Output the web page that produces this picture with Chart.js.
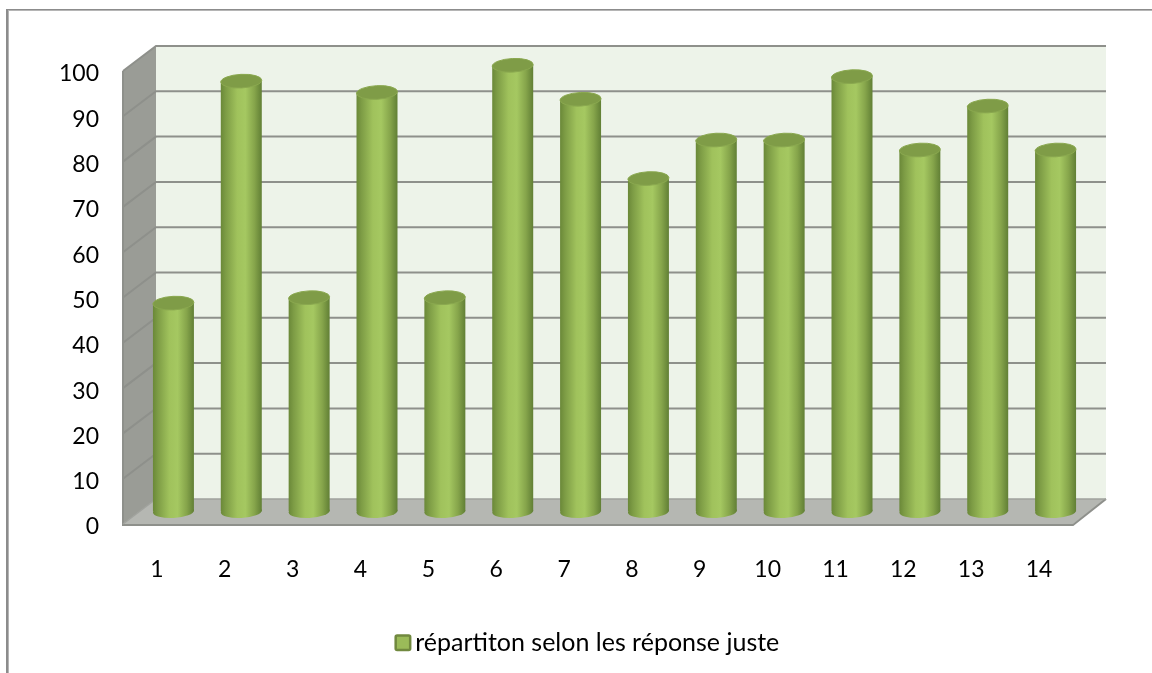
<!DOCTYPE html>
<html><head><meta charset="utf-8">
<script src="https://cdn.jsdelivr.net/npm/chart.js@4"></script>
<style>html,body{margin:0;padding:0;background:#fff}#w{position:relative;width:1152px;height:673px}canvas{display:block}</style>
</head><body><div id="w"><canvas id="c" width="1152" height="673"></canvas></div>
<script>
const categories = ['1','2','3','4','5','6','7','8','9','10','11','12','13','14'];
const seriesName = 'répartiton selon les réponse juste';
const seriesValues = [46,95,47.2,92.5,47.2,98.5,91,73.5,82,82,96,79.8,89.5,79.8];
const yMax = 100, yStep = 10;
const DEPTH_X = 33, DEPTH_Y = 25;
const TILT = -0.05;
const fontFam = 'Lato, Carlito, "Open Sans", sans-serif';

const wallPlugin = {
  id:'wall',
  afterLayout(chart){
    const lg = chart.legend;
    lg.left = 9; lg.right = 1165;
  },
  beforeDraw(chart){
    const c = chart.ctx;
    c.save();
    c.fillStyle='#fff'; c.fillRect(0,0,chart.width,chart.height);
    c.fillStyle='#8c8c8c';
    c.fillRect(6,9,1146,1); c.fillRect(6,9,2,664);
    c.fillStyle='#b5b5b5';
    c.fillRect(8,10,1144,1); c.fillRect(8,10,1,663);
    c.restore();
  },
  beforeDatasetsDraw(chart){
    const c = chart.ctx, a = chart.chartArea, y = chart.scales.y;
    const L=a.left,R=a.right,T=a.top,B=a.bottom,dx=DEPTH_X,dy=DEPTH_Y;
    c.save();
    c.fillStyle='#edf3e9';
    c.fillRect(L+dx,T-dy,R-L,B-T);
    c.fillStyle='#9a9c96';
    c.beginPath();c.moveTo(L,T);c.lineTo(L+dx,T-dy);c.lineTo(L+dx,B-dy);c.lineTo(L,B);c.closePath();c.fill();
    c.fillStyle='#b5b7b2';
    c.beginPath();c.moveTo(L,B);c.lineTo(L+dx,B-dy);c.lineTo(R+dx,B-dy);c.lineTo(R,B);c.closePath();c.fill();
    c.strokeStyle='#8e908b';c.lineWidth=2;
    y.ticks.forEach(t=>{
      const p=y.getPixelForValue(t.value);
      if(t.value>0){
        c.beginPath();c.moveTo(L,p);c.lineTo(L+dx,p-dy);c.lineTo(R+dx,p-dy);c.stroke();
      }
    });
    c.beginPath();c.moveTo(L,T);c.lineTo(L,B+1);c.lineTo(R,B+1);c.lineTo(R+dx,B-dy);c.stroke();
    c.beginPath();c.moveTo(L,B);c.lineTo(L+dx,B-dy);c.lineTo(R+dx,B-dy);
    c.strokeStyle='#a0a29d';c.lineWidth=1.5;c.stroke();
    c.restore();
  },
  beforeDatasetDraw(chart){
    const c=chart.ctx;
    c.save();
    c.translate(DEPTH_X/2,-DEPTH_Y/2);
    chart.getDatasetMeta(0).data.forEach(b=>{
      c.fillStyle=grad(c,b.x,b.width);
      c.beginPath();c.ellipse(b.x,b.base,b.width/2,6.5,TILT,0,Math.PI*2);c.fill();
    });
  },
  afterDatasetDraw(chart){
    const c=chart.ctx;
    chart.getDatasetMeta(0).data.forEach(b=>{
      c.fillStyle='#7f9c47';
      c.beginPath();c.ellipse(b.x,b.y,b.width/2,6.8,TILT,0,Math.PI*2);c.fill();
      c.strokeStyle='#8aa84f';c.lineWidth=1;c.stroke();
    });
    c.restore();
  },
  afterDraw(chart){
    const c=chart.ctx, h=chart.legend.legendHitBoxes[0];
    const top=h.top+h.height/2-7;
    c.save();
    c.fillStyle='#9bbb59';c.strokeStyle='#71893f';c.lineWidth=2.5;
    c.beginPath();c.roundRect(h.left+1,top,14.5,14.5,1.5);c.fill();c.stroke();
    c.restore();
  }
};
function grad(c,x,w){
  const g=c.createLinearGradient(x-w/2,0,x+w/2,0);
  g.addColorStop(0,'#6a8838');
  g.addColorStop(0.12,'#7d9c45');
  g.addColorStop(0.4,'#a0c25c');
  g.addColorStop(0.6,'#a5c861');
  g.addColorStop(0.82,'#86a54b');
  g.addColorStop(1,'#617f35');
  return g;
}

new Chart(document.getElementById('c'),{
  type:'bar',
  data:{labels:categories,datasets:[{
    label:seriesName,data:seriesValues,
    backgroundColor(ctx){
      const ch=ctx.chart, s=ch.scales.x;
      if(!s||ctx.dataIndex===undefined) return '#9bbb59';
      const w=(s.getPixelForValue(1)-s.getPixelForValue(0))*0.604;
      return grad(ch.ctx,s.getPixelForValue(ctx.dataIndex),w);
    },
    borderWidth:0,categoryPercentage:1,barPercentage:0.604
  }]},
  plugins:[wallPlugin],
  options:{
    responsive:false,animation:false,
    layout:{padding:{left:0,top:71,right:79,bottom:8}},
    scales:{
      x:{grid:{display:false},border:{display:false},
        ticks:{color:'#000',font:{family:fontFam,size:23},padding:24,maxRotation:0,autoSkip:false},
        afterFit(s){s.height=98;}},
      y:{min:0,max:yMax,grid:{display:false},border:{display:false},
        ticks:{stepSize:yStep,color:'#000',font:{family:fontFam,size:23},padding:16,labelOffset:3},
        afterFit(s){s.width=123;}}
    },
    plugins:{
      tooltip:{enabled:false},
      legend:{position:'bottom',
        labels:{color:'#000',font:{family:fontFam,size:25},boxWidth:8,boxHeight:8,padding:8,
          generateLabels(ch){return [{text:seriesName,fillStyle:'rgba(0,0,0,0)',strokeStyle:'rgba(0,0,0,0)',lineWidth:0,datasetIndex:0,fontColor:'#000'}];}
        }}
    }
  }
});
</script></body></html>
